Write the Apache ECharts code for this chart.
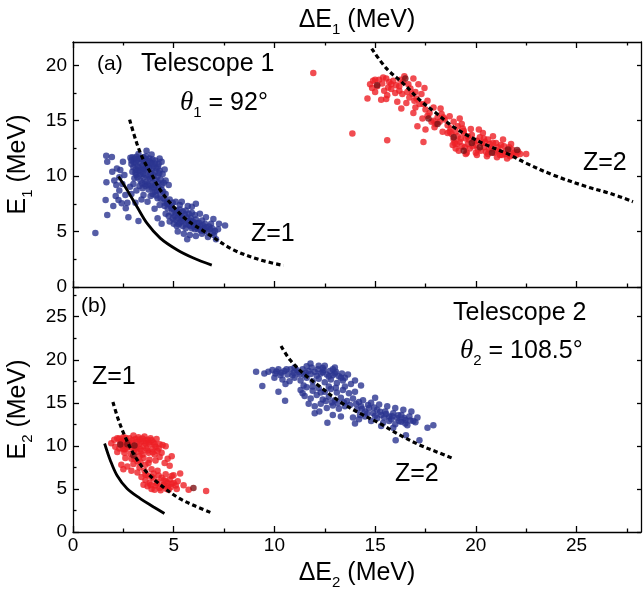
<!DOCTYPE html>
<html>
<head>
<meta charset="utf-8">
<script src="https://cdn.jsdelivr.net/npm/echarts@6/dist/echarts.min.js"></script>
<style>
html,body{margin:0;padding:0;background:#fff}
#chart{width:643px;height:590px}
</style>
</head>
<body>
<div id="chart"></div>
<script>
// Axis ranges and tick positions
const X_MIN = 0, X_MAX = 28.2;
const Y1_MAX = 22.1, Y2_MAX = 28.45;
const X_MAJOR = [0, 5, 10, 15, 20, 25];
const X_MINOR = [2.5, 7.5, 12.5, 17.5, 22.5, 27.5];
const Y1_MAJOR = [0, 5, 10, 15, 20];
const Y1_MINOR = [2.5, 7.5, 12.5, 17.5];
const Y2_MAJOR = [0, 5, 10, 15, 20, 25];
const Y2_MINOR = [2.5, 7.5, 12.5, 17.5, 22.5, 27.5];

// Telescope 1 (theta = 92 deg): measured events [dE, E]
const T1_Z1_HITS = [
  [1.11,4.86],[1.65,11.85],[1.93,11.72],[1.7,11.3],[1.95,10.4],[1.66,9.45],[2.05,9.6],[1.62,7.85],[1.7,6.5],[2.0,7.3],
  [2.26,7.85],[2.3,8.7],[2.45,9.3],[2.42,7.55],[2.7,7.6],[2.6,8.3],[2.35,10.55],[2.18,10.7],[2.55,10.1],[2.12,8.2],
  [2.62,7.1],[2.83,9.05],[2.15,9.2],[2.48,11.3],[2.3,9.9],[2.75,6.3],[3.25,5.95],[2.9,8.4],[3.1,7.6],
  [2.85,11.65],[2.95,11.7],[3.05,11.6],[3.15,11.75],[3.3,11.6],[3.5,11.7],[3.65,12.3],[3.8,11.6],[3.95,11.5],[4.1,11.4],
  [4.25,11.1],[4.4,11.3],[4.55,10.6],[2.9,11.1],[3.0,10.8],[3.1,11.2],[3.2,10.9],[3.35,11.2],[3.45,10.95],[3.55,11.3],
  [3.7,11.0],[3.85,11.2],[4.0,10.9],[4.15,10.7],[4.3,10.5],[4.45,10.2],[2.95,10.4],[3.1,10.3],[3.25,10.5],[3.4,10.4],
  [3.55,10.6],[3.7,10.5],[3.85,10.3],[4.0,10.1],[4.2,10.0],[4.35,9.7],[4.5,9.4],[3.05,9.8],[3.2,9.9],[3.35,9.6],
  [3.5,9.85],[3.65,9.5],[3.8,9.75],[3.95,9.4],[4.1,9.2],[4.25,9.0],[3.3,9.1],[3.45,8.9],[3.6,9.1],[3.75,8.8],
  [3.9,8.95],[4.05,8.6],[4.4,8.8],[4.6,8.4],[3.15,8.7],[3.5,8.3],[3.85,8.2],[4.2,8.0],[3.4,7.9],[3.0,9.3],
  [3.7,7.7],[4.6,9.6],[4.75,9.2],[2.9,11.4],[3.6,11.55],[4.3,11.6],[3.25,12.0],[3.9,11.95],
  [3.02,11.25],[3.18,11.45],[3.42,11.5],[3.62,11.8],[3.78,11.35],[3.92,11.1],[4.08,11.15],[4.22,10.85],[3.12,10.6],[3.28,10.75],
  [3.48,10.7],[3.62,10.85],[3.78,10.75],[3.92,10.6],[4.08,10.4],[4.28,10.25],[3.15,10.1],[3.32,10.15],[3.48,10.2],[3.62,10.05],
  [3.78,10.0],[3.92,9.85],[4.08,9.65],[4.22,9.45],[4.4,9.2],[3.42,9.35],[3.58,9.3],[3.72,9.2],[3.88,9.15],[4.02,8.95],
  [4.18,8.7],[4.32,8.5],[4.48,8.6],[3.95,8.4],[4.12,8.25],[4.35,7.95],
  [4.5,8.0],[4.65,7.7],[4.8,7.9],[4.95,7.6],[5.1,7.7],[5.3,7.4],[4.55,7.3],[4.7,7.1],[4.85,7.3],[5.0,7.0],
  [5.15,6.9],[5.3,7.0],[5.45,6.8],[5.6,6.9],[5.75,6.6],[5.9,6.7],[6.05,6.5],[4.6,6.6],[4.75,6.4],[4.9,6.7],
  [5.05,6.4],[5.2,6.2],[5.35,6.4],[5.5,6.1],[5.65,6.3],[5.8,6.0],[5.95,5.9],[6.1,6.1],[6.25,5.8],[6.4,6.0],
  [6.55,5.7],[4.8,5.9],[5.0,5.7],[5.15,5.5],[5.3,5.8],[5.45,5.5],[5.6,5.3],[5.75,5.6],[5.9,5.3],[6.05,5.2],
  [6.2,5.4],[6.35,5.1],[6.5,5.3],[6.65,5.0],[6.8,5.2],[6.95,4.9],[5.2,5.0],[5.5,4.8],[5.8,4.7],[6.1,4.6],
  [6.4,4.8],[6.7,4.5],[7.0,4.7],[5.67,4.3],[7.1,4.3],[6.97,6.14],[7.25,5.7],[6.85,5.7],[6.6,6.3],[6.3,6.6],
  [5.7,7.3],[5.4,7.7],[5.9,7.25],[6.1,7.5],[4.2,6.2],[4.4,5.7],[4.05,7.05],[4.3,7.4],
  [4.55,7.6],[4.7,7.5],[4.9,7.1],[5.1,6.7],[5.25,6.6],[5.4,6.2],[5.55,6.55],[5.7,5.9],[5.85,6.2],[6.0,5.7],
  [6.15,5.75],[6.3,5.5],[6.45,5.55],[6.6,5.4],[6.75,5.45],[4.95,6.2],[5.1,6.05],[5.25,5.65],[5.4,5.95],[5.6,5.65],
  [5.85,5.5],[6.0,5.45],[6.2,5.2],[6.5,5.05],[6.9,5.3],[7.05,5.05],[7.2,5.2],[7.55,5.55]
];
const T1_Z2_HITS = [
  [11.93,19.3],[13.87,13.84],[15.6,13.24],[17.4,13.09],[14.62,17.0],
  [14.75,18.3],[14.9,18.6],[15.0,18.7],[15.2,18.7],[14.85,17.95],[15.1,18.1],[15.35,18.35],[15.55,18.8],[15.7,18.5],[15.9,18.6],
  [16.05,18.2],[16.25,18.7],[16.4,18.5],[16.45,19.0],[15.45,17.7],[15.6,17.3],[15.8,17.85],[16.0,17.5],[16.2,17.7],[16.35,17.4],
  [16.6,17.6],[16.75,17.9],[16.85,17.4],[16.9,18.8],[15.3,16.9],[15.55,16.95],[16.1,16.7],[16.55,16.6],[16.7,17.1],[17.05,17.0],
  [17.15,18.3],[17.3,17.4],[17.45,17.95],[15.0,17.6],[16.3,16.1],
  [17.0,16.2],[17.2,16.5],[17.5,16.0],[17.7,15.7],[17.9,16.2],[18.1,15.3],[18.3,15.6],[17.35,15.2],[17.6,15.45],[17.8,14.9],
  [18.0,14.7],[18.2,14.9],[18.45,15.1],[18.6,14.6],[18.75,14.3],[18.9,14.9],[19.1,14.5],[19.3,14.7],[19.4,14.1],[17.1,14.5],
  [17.5,14.2],[17.95,14.4],[18.35,14.0],[18.25,16.1],[16.9,15.7],[18.7,15.4],[19.2,15.2],
  [18.8,13.8],[18.9,13.3],[18.85,12.8],[19.0,14.0],[19.1,13.6],[19.2,13.1],[19.3,12.7],[19.4,13.9],[19.5,13.4],[19.6,12.9],
  [19.7,12.5],[19.8,13.7],[19.9,13.2],[20.0,12.8],[20.1,12.4],[20.2,13.5],[20.3,13.0],[20.4,12.6],[20.5,12.2],[20.6,13.3],
  [20.7,12.9],[20.8,12.5],[20.9,12.1],[21.0,13.0],[21.1,12.6],[21.2,12.2],[21.3,11.9],[21.4,12.7],[21.5,12.3],[21.6,12.0],
  [21.7,11.8],[21.8,12.4],[21.9,12.1],[22.0,11.9],[22.2,12.0],[22.5,12.0],[19.15,12.3],[19.55,12.1],[20.05,11.9],[20.55,11.8],
  [21.05,11.7],[21.55,11.6],[19.35,14.3],[20.35,13.9],[20.85,13.6],[21.35,13.3],[20.15,14.2],[19.75,14.25],[21.75,12.9],
  [19.05,12.9],[19.25,13.4],[19.45,12.6],[19.65,13.3],[19.85,12.7],[20.05,13.2],[20.25,12.3],[20.45,13.1],[20.65,12.4],[20.85,13.0],
  [21.05,12.3],[21.25,12.8],[21.45,12.0],[21.65,12.6],[21.85,11.9],[22.1,12.2],[19.0,12.5],[19.5,12.0],[20.0,12.1],[20.6,12.0],
  [21.2,11.9],[18.95,13.0],[19.6,13.6],[20.4,13.4],[18.6,13.9],[18.7,14.0],[17.9,15.0],[18.4,15.3],[17.4,16.5],[16.95,16.8],
  [16.2,18.1],[15.8,18.3],[15.4,18.9],[15.65,18.0],[16.65,18.3],[17.0,17.6],[17.6,16.8]
];
const T1_Z2_DARK = [
  [15.1,18.2],[16.5,18.8],[18.9,13.5],[19.4,12.3],[20.2,12.6],[20.8,12.1],[21.6,12.4],[22.05,12.35],[18.1,14.7],[19.8,13.0],[17.65,15.2]
];

// Telescope 2 (theta = 108.5 deg): measured events [dE, E]
const T2_Z1_HITS = [
  [1.9,10.3],[2.05,10.7],[2.2,10.9],[2.35,10.4],[2.5,11.0],[2.65,10.6],[2.8,10.9],[2.95,10.3],[3.1,10.8],[3.25,11.0],
  [3.4,10.5],[3.55,11.1],[3.7,10.7],[3.85,10.9],[4.0,10.4],[4.15,10.8],[2.1,9.9],[2.3,9.7],[2.45,10.0],[2.6,9.6],
  [2.75,10.1],[2.9,9.8],[3.05,9.5],[3.2,9.9],[3.35,9.6],[3.5,10.0],[3.65,9.7],[3.8,10.2],[3.95,9.6],[4.1,9.9],
  [4.3,10.2],[4.45,10.1],[4.6,9.95],[4.2,9.4],[2.2,9.3],[2.55,9.2],[2.85,9.1],[3.15,9.3],[3.45,9.0],[3.75,9.2],
  [4.05,9.0],[2.4,10.55],[3.0,11.2],[3.6,10.3],[2.7,10.4],[3.3,10.25],[4.4,9.2],[4.7,8.5],[4.9,8.8],[4.55,8.0],[4.8,7.7],
  [2.6,8.6],[2.9,8.5],[3.2,8.2],[3.5,8.6],[3.8,8.4],[4.1,8.3],[2.4,7.8],[2.7,7.6],[3.0,7.9],[3.3,7.5],
  [3.6,7.8],[3.9,7.3],[2.9,7.1],[3.2,6.9],[3.55,7.1],[4.2,7.1],[2.5,7.3],[4.0,6.8],[3.7,6.6],[3.3,8.8],
  [3.4,6.4],[3.6,6.0],[3.8,5.7],[4.0,6.2],[4.2,5.8],[4.4,6.3],[4.6,5.9],[4.8,6.1],[5.0,5.7],[3.5,5.5],
  [3.7,5.3],[3.9,5.0],[4.1,5.4],[4.3,5.1],[4.5,5.5],[4.7,5.3],[4.9,5.6],[5.1,5.4],[4.05,4.9],[4.35,4.85],
  [3.6,6.65],[4.6,6.7],[4.9,6.5],[5.32,6.8],[4.99,6.6],[5.49,5.42],[5.74,4.9],[6.61,4.77],[5.2,5.9],[4.75,4.9],
  [2.3,10.85],[2.45,10.3],[2.6,10.95],[2.8,10.25],[2.95,10.65],[3.15,10.45],[3.3,10.75],[3.45,10.85],[3.6,10.6],[3.75,10.4],
  [3.9,10.65],[4.05,10.2],[2.5,9.6],[2.7,9.8],[3.1,9.75],[3.4,9.4],[3.7,9.45],[3.95,9.25],[4.25,9.7],[3.05,8.5],
  [3.35,8.1],[3.75,8.0],[4.3,8.7],[3.9,6.4],[4.25,6.55],[4.5,6.0],[4.7,5.7],[4.15,5.65],[4.45,5.3],[4.85,5.2],
  [3.85,5.45],[4.65,5.0],[5.15,5.0]
];
const T2_Z1_DARK = [
  [5.98,5.12],[2.7,10.2],[3.05,10.05],[3.0,8.9],[2.35,10.15]
];
const T2_Z2_HITS = [
  [9.09,18.6],[9.4,16.94],[10.2,16.28],[10.53,15.23],
  [9.7,18.6],[9.9,18.8],[10.05,18.4],[10.2,18.9],[10.35,18.5],[10.5,18.7],[10.65,18.3],[10.8,18.9],[10.95,18.5],[11.1,18.8],
  [11.25,18.3],[11.4,18.9],[11.55,18.5],[11.7,18.7],[11.85,19.1],[12.0,18.6],[12.15,18.9],[12.3,18.4],[12.45,18.8],[12.6,18.3],
  [12.75,18.7],[12.9,18.2],[13.05,18.6],[13.2,18.1],[13.35,18.4],[13.5,17.9],[13.65,18.3],[11.79,19.58],[12.5,19.3],[13.0,19.1],
  [12.2,19.3],[10.0,17.9],[10.4,17.7],[10.75,17.5],[11.0,17.9],[11.3,17.6],[11.6,17.9],[11.9,17.5],[12.2,17.8],[12.5,17.4],
  [12.8,17.7],[13.1,17.3],[13.4,17.6],[13.8,17.2],[14.0,17.6],[14.3,17.0],[10.55,17.2],[11.45,17.0],[9.5,18.4],
  [11.3,16.5],[11.6,16.8],[11.9,16.4],[12.2,16.7],[12.5,16.3],[12.8,16.6],[13.1,16.2],[13.4,16.5],[13.7,16.1],[14.0,16.3],
  [11.5,15.8],[11.8,15.5],[12.1,15.9],[12.4,15.4],[12.7,15.7],[13.0,15.3],[13.3,15.6],[13.6,15.2],[13.9,15.5],[14.2,15.1],
  [11.7,14.9],[12.0,14.6],[12.3,14.9],[12.6,14.4],[12.9,14.7],[13.2,14.3],[13.5,14.6],[12.23,14.0],[12.63,12.7],[12.9,13.6],
  [13.3,13.4],[11.4,16.1],[12.0,13.8],
  [14.1,14.2],[14.3,14.6],[14.5,14.0],[14.7,14.4],[14.9,13.8],[15.1,14.2],[15.3,13.6],[15.5,14.0],[15.7,13.4],[15.9,13.8],
  [16.1,13.2],[16.3,13.6],[16.5,13.0],[16.7,13.4],[16.9,12.9],[17.1,13.3],[13.9,13.3],[14.2,13.1],[14.5,13.4],[14.8,12.9],
  [15.1,13.2],[15.4,12.7],[15.7,12.9],[16.0,12.5],[16.3,12.8],[16.6,12.4],[14.4,15.3],[14.8,15.0],[15.2,14.8],[15.6,14.6],
  [16.0,14.4],[16.4,14.2],[16.8,14.0],[15.0,15.6],[14.0,12.6],[17.6,12.1],[17.89,12.4],[16.02,10.66],[16.53,11.24],[17.2,10.66],
  [15.3,12.3],[15.9,12.1],
  [10.1,18.65],[10.3,18.2],[10.6,18.9],[10.9,18.2],[11.2,18.55],[11.5,18.2],[11.8,18.35],[12.1,18.15],[12.4,18.55],[12.7,18.05],
  [13.0,18.4],[13.3,17.9],[11.0,19.1],[11.6,19.25],[12.4,19.05],[12.9,18.9],[11.9,16.9],[12.3,16.2],[12.7,16.9],[13.05,16.75],
  [13.5,16.9],[12.55,15.2],[12.85,15.05],[13.15,14.95],[13.45,15.05],[13.75,14.75],[14.05,14.85],[14.35,14.3],[14.65,14.75],[14.95,14.45],
  [15.25,13.95],[15.55,13.7],[15.85,13.45],[16.15,13.55],[16.45,13.25],[16.75,12.95],[17.0,12.75],[14.6,13.75],[15.0,13.5],[15.45,13.3],
  [15.8,13.1],[16.2,12.9],[16.5,12.6],[14.25,13.6]
];

// Calculated dE-E loci
const T1_Z1_LOWER = [[2.26,9.96],[2.68,8.76],[3.17,7.26],[3.67,5.76],[4.33,4.41],[5.16,3.36],[5.98,2.61],[6.89,1.97]];
const T1_Z1_UPPER = [[2.81,15.1],[3.17,12.95],[3.5,11.45],[3.92,10.1],[4.33,8.75],[4.99,7.25],[5.65,6.05],[6.65,4.86],[7.97,3.35],[9.29,2.45],[10.45,1.94]];
const T1_Z2_CURVE = [[14.83,21.5],[15.57,19.7],[16.4,18.35],[17.23,16.85],[18.05,15.65],[18.88,14.45],[19.71,13.55],[20.54,12.8],[21.53,12.05],[22.52,11.15],[23.84,10.1],[25.5,9.05],[26.65,8.45],[27.8,7.7]];
const T2_Z1_LOWER = [[1.57,10.28],[1.85,8.34],[2.18,6.59],[2.68,5.05],[3.34,3.88],[4.0,2.91],[4.54,2.14]];
const T2_Z1_UPPER = [[1.98,15.1],[2.26,13.0],[2.59,11.05],[3.0,9.1],[3.5,7.37],[4.17,5.81],[5.16,4.07],[5.98,3.1],[6.85,2.25]];
const T2_Z2_CURVE = [[10.33,21.6],[10.78,19.97],[11.44,18.4],[12.27,16.86],[13.26,15.12],[14.25,13.77],[15.24,12.6],[16.24,11.24],[17.23,10.08],[18.06,9.3],[18.88,8.53]];

const FONT = '"Liberation Sans", Arial, Helvetica, sans-serif';
const SERIF = '"Liberation Serif", "Times New Roman", serif';
const BLUE = '#2b3590';
const RED = '#ee1f26';
const DARK_RED = '#7d1115';
const AXIS_LINE = { color: '#000', width: 1.3 };

function xAxisDef(grid, position, ticks, len, opts) {
  return Object.assign({
    gridIndex: grid, type: 'value', min: X_MIN, max: X_MAX, position: position,
    axisLine: { show: false, onZero: false, lineStyle: AXIS_LINE },
    axisTick: { show: true, inside: true, length: len, customValues: ticks, lineStyle: AXIS_LINE },
    axisLabel: { show: false },
    splitLine: { show: false }
  }, opts || {});
}
function yAxisDef(grid, position, max, ticks, len, opts) {
  return Object.assign({
    gridIndex: grid, type: 'value', min: 0, max: max, position: position,
    axisLine: { show: false, onZero: false, lineStyle: AXIS_LINE },
    axisTick: { show: true, inside: true, length: len, customValues: ticks, lineStyle: AXIS_LINE },
    axisLabel: { show: false },
    splitLine: { show: false }
  }, opts || {});
}

const nameStyle = {
  fontFamily: FONT, fontSize: 25, color: '#000', lineHeight: 34,
  rich: { s: { fontFamily: FONT, fontSize: 15, lineHeight: 15, verticalAlign: 'bottom', color: '#000' } }
};
const tickLabel = (vals) => ({ show: true, customValues: vals, fontFamily: FONT, fontSize: 19, color: '#000' });

const xAxes = [
  xAxisDef(0, 'bottom', X_MAJOR, 6, { axisLine: { show: true, onZero: false, lineStyle: AXIS_LINE } }),
  xAxisDef(0, 'bottom', X_MINOR, 3.5),
  xAxisDef(0, 'top', X_MAJOR, 6, {
    axisLine: { show: true, onZero: false, lineStyle: AXIS_LINE },
    name: 'ΔE{s|1} (MeV)', nameLocation: 'middle', nameGap: 5, nameTextStyle: nameStyle
  }),
  xAxisDef(0, 'top', X_MINOR, 3.5),
  xAxisDef(1, 'bottom', X_MAJOR, 6, {
    axisLine: { show: true, onZero: false, lineStyle: AXIS_LINE },
    axisLabel: Object.assign(tickLabel(X_MAJOR), { margin: 4 }),
    name: 'ΔE{s|2} (MeV)', nameLocation: 'middle', nameGap: 13, nameTextStyle: nameStyle
  }),
  xAxisDef(1, 'bottom', X_MINOR, 3.5)
];
const yAxes = [
  yAxisDef(0, 'left', Y1_MAX, Y1_MAJOR, 6, {
    axisLine: { show: true, onZero: false, lineStyle: AXIS_LINE },
    axisLabel: Object.assign(tickLabel(Y1_MAJOR), { margin: 6 }),
    name: 'E{s|1} (MeV)', nameLocation: 'middle', nameGap: 34, nameTextStyle: nameStyle
  }),
  yAxisDef(0, 'left', Y1_MAX, Y1_MINOR, 3.5),
  yAxisDef(0, 'right', Y1_MAX, Y1_MAJOR, 4, { axisLine: { show: true, onZero: false, lineStyle: AXIS_LINE } }),
  yAxisDef(1, 'left', Y2_MAX, Y2_MAJOR, 6, {
    axisLine: { show: true, onZero: false, lineStyle: AXIS_LINE },
    axisLabel: Object.assign(tickLabel(Y2_MAJOR), { margin: 6 }),
    name: 'E{s|2} (MeV)', nameLocation: 'middle', nameGap: 34, nameTextStyle: nameStyle
  }),
  yAxisDef(1, 'left', Y2_MAX, Y2_MINOR, 3.5),
  yAxisDef(1, 'right', Y2_MAX, Y2_MAJOR, 4, { axisLine: { show: true, onZero: false, lineStyle: AXIS_LINE } })
];

function hits(data, color, xi, yi) {
  return {
    type: 'scatter', xAxisIndex: xi, yAxisIndex: yi, data: data,
    symbol: 'circle', symbolSize: 6.5, itemStyle: { color: color }, z: 2, silent: true
  };
}
function locus(data, dashed, xi, yi) {
  return {
    type: 'line', xAxisIndex: xi, yAxisIndex: yi, data: data, smooth: 0.35,
    showSymbol: false, silent: true, z: 3,
    lineStyle: { color: '#000', width: dashed ? 3.2 : 2.8, type: dashed ? [4.5, 3] : 'solid' }
  };
}

function label(text, x, y, size) {
  return { type: 'text', x: x, y: y, silent: true,
    style: { text: text, fill: '#000', font: (size || 25) + 'px ' + FONT, verticalAlign: 'middle', align: 'left' } };
}
function angleLabel(sub, rest, x, y) {
  return { type: 'text', x: x, y: y, silent: true,
    style: {
      text: '{t|θ}{s|' + sub + '}{n|' + rest + '}', fill: '#000', verticalAlign: 'middle', align: 'left',
      rich: {
        t: { fontFamily: SERIF, fontStyle: 'italic', fontSize: 27, lineHeight: 34, fill: '#000' },
        s: { fontFamily: FONT, fontSize: 15, lineHeight: 15, verticalAlign: 'bottom', fill: '#000' },
        n: { fontFamily: FONT, fontSize: 25, lineHeight: 34, fill: '#000' }
      }
    } };
}

const chart = echarts.init(document.getElementById('chart'), null, { renderer: 'canvas' });
chart.setOption({
  animation: false,
  backgroundColor: '#fff',
  grid: [
    { left: 73, top: 42, width: 568, height: 245, containLabel: false, outerBoundsMode: 'none' },
    { left: 73, top: 287, width: 568, height: 245, containLabel: false, outerBoundsMode: 'none' }
  ],
  xAxis: xAxes,
  yAxis: yAxes,
  series: [
    hits(T1_Z1_HITS, BLUE, 0, 0),
    hits(T1_Z2_HITS, RED, 0, 0),
    hits(T1_Z2_DARK, DARK_RED, 0, 0),
    hits(T2_Z1_HITS, RED, 4, 3),
    hits(T2_Z1_DARK, DARK_RED, 4, 3),
    hits(T2_Z2_HITS, BLUE, 4, 3),
    locus(T1_Z1_LOWER, false, 0, 0),
    locus(T1_Z1_UPPER, true, 0, 0),
    locus(T1_Z2_CURVE, true, 0, 0),
    locus(T2_Z1_LOWER, false, 4, 3),
    locus(T2_Z1_UPPER, true, 4, 3),
    locus(T2_Z2_CURVE, true, 4, 3)
  ],
  graphic: [
    label('(a)', 97, 64, 21),
    label('Telescope 1', 141, 64.6),
    angleLabel('1', ' = 92°', 180, 103),
    label('Z=1', 251, 234.6),
    label('Z=2', 583, 163.3),
    label('(b)', 81, 306.3, 21),
    label('Telescope 2', 453, 313),
    angleLabel('2', ' = 108.5°', 460, 351.3),
    label('Z=1', 92, 377.3),
    label('Z=2', 395, 474.6)
  ]
});
</script>
</body>
</html>
